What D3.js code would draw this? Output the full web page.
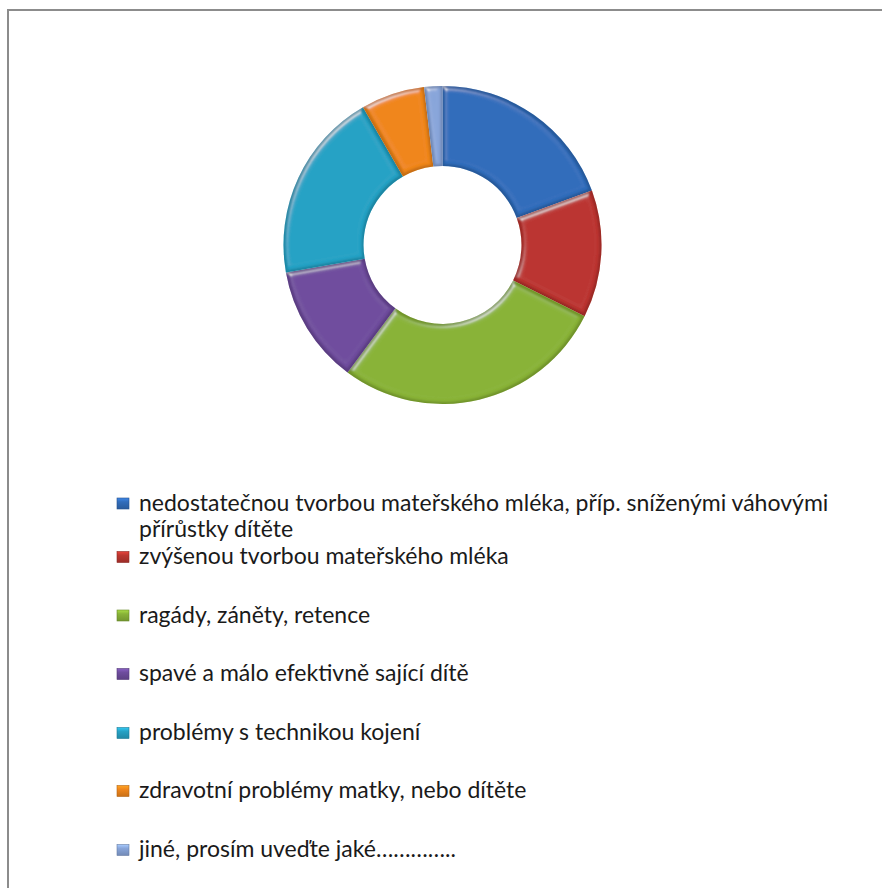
<!DOCTYPE html>
<html>
<head>
<meta charset="utf-8">
<script src="https://cdn.jsdelivr.net/npm/d3@7"></script>
<style>
  html, body { margin: 0; padding: 0; background: #ffffff; }
  svg { display: block; }
</style>
</head>
<body>
<div id="chart"></div>
<script>
// Reasons for breastfeeding problems (response counts)
const categories = [
  "nedostatečnou tvorbou mateřského mléka, příp. sníženými váhovými přírůstky dítěte",
  "zvýšenou tvorbou mateřského mléka",
  "ragády, záněty, retence",
  "spavé a málo efektivně sající dítě",
  "problémy s technikou kojení",
  "zdravotní problémy matky, nebo dítěte",
  "jiné, prosím uveďte jaké………….."
];
const counts = [21, 14, 30, 13, 21, 7, 2];
const legendLines = [
  ["nedostatečnou tvorbou mateřského mléka, příp. sníženými váhovými", "přírůstky dítěte"],
  ["zvýšenou tvorbou mateřského mléka"],
  ["ragády, záněty, retence"],
  ["spavé a málo efektivně sající dítě"],
  ["problémy s technikou kojení"],
  ["zdravotní problémy matky, nebo dítěte"],
  ["jiné, prosím uveďte jaké………….."]
];
const colors = ["#326dbb", "#bb3630", "#89b338", "#6f4d9e", "#27a2c5", "#f0861c", "#88a5da"];

const W = 882, H = 888;
const svg = d3.select("#chart").append("svg").attr("width", W).attr("height", H);

// chart area frame (right/bottom edges fall outside the page)
svg.append("path")
  .attr("d", `M8,${H + 5} L8,10 L${W + 5},10`)
  .attr("fill", "none").attr("stroke", "#8c8c8c").attr("stroke-width", 2);

const defs = svg.append("defs");

// soft bevel: darkened rim plus a light highlight confined to the rim
const f = defs.append("filter").attr("id", "bevel")
  .attr("x", "-10%").attr("y", "-10%").attr("width", "120%").attr("height", "120%");
f.append("feGaussianBlur").attr("in", "SourceAlpha").attr("stdDeviation", 2.5).attr("result", "blur");
const spec = f.append("feSpecularLighting").attr("in", "blur").attr("surfaceScale", 3)
  .attr("specularConstant", 0.6).attr("specularExponent", 25)
  .attr("lighting-color", "#ffffff").attr("result", "spec");
spec.append("feDistantLight").attr("azimuth", 235).attr("elevation", 35);
// wide rim mask
f.append("feMorphology").attr("in", "SourceAlpha").attr("operator", "erode").attr("radius", 5).attr("result", "erW");
f.append("feGaussianBlur").attr("in", "erW").attr("stdDeviation", 2).attr("result", "erWb");
f.append("feComposite").attr("in", "SourceAlpha").attr("in2", "erWb").attr("operator", "arithmetic")
  .attr("k2", 1).attr("k3", -1).attr("result", "rimW");
f.append("feComposite").attr("in", "spec").attr("in2", "rimW").attr("operator", "in").attr("result", "specIn");
// narrow dark rim
f.append("feMorphology").attr("in", "SourceAlpha").attr("operator", "erode").attr("radius", 1.5).attr("result", "er");
f.append("feGaussianBlur").attr("in", "er").attr("stdDeviation", 1.2).attr("result", "erb");
f.append("feComposite").attr("in", "SourceAlpha").attr("in2", "erb").attr("operator", "arithmetic")
  .attr("k2", 1).attr("k3", -1).attr("result", "edge");
f.append("feFlood").attr("flood-color", "#000000").attr("flood-opacity", 0.35).attr("result", "dark");
f.append("feComposite").attr("in", "dark").attr("in2", "edge").attr("operator", "in").attr("result", "darkEdge");
const m = f.append("feMerge");
m.append("feMergeNode").attr("in", "SourceGraphic");
m.append("feMergeNode").attr("in", "specIn");
m.append("feMergeNode").attr("in", "darkEdge");

// legend key gradient: lighter top edge, darker body
colors.forEach((c, i) => {
  const lgd = defs.append("linearGradient").attr("id", "key" + i)
    .attr("x1", 0).attr("y1", 0).attr("x2", 0).attr("y2", 1);
  lgd.append("stop").attr("offset", "0%").attr("stop-color", d3.color(c).brighter(0.6));
  lgd.append("stop").attr("offset", "35%").attr("stop-color", c);
  lgd.append("stop").attr("offset", "100%").attr("stop-color", d3.color(c).darker(0.5));
});

// donut
const cx = 442.5, cy = 245, rOuter = 159, rInner = 79;
const pie = d3.pie().sort(null).value(d => d)(counts);
const arc = d3.arc().innerRadius(rInner).outerRadius(rOuter);
const g = svg.append("g").attr("transform", `translate(${cx},${cy})`);
g.selectAll("path.slice").data(pie).join("path")
  .attr("class", "slice")
  .attr("d", arc)
  .attr("fill", (d, i) => colors[i])
  .attr("filter", "url(#bevel)");

// legend
const legendX = 117, textX = 139;
const baselines = [[510.5, 537], [564], [622.5], [681], [740], [798], [857]];
const lg = svg.append("g").attr("font-family", "Lato, 'Open Sans', sans-serif")
  .attr("font-size", 23).attr("fill", "#1a1a1a");
legendLines.forEach((lines, i) => {
  const b0 = baselines[i][0];
  lg.append("rect")
    .attr("x", legendX).attr("y", b0 - 12.5).attr("width", 12).attr("height", 11)
    .attr("fill", `url(#key${i})`)
    .attr("stroke", d3.color(colors[i]).darker(0.8)).attr("stroke-width", 0.6);
  lines.forEach((t, j) => {
    lg.append("text").attr("x", textX).attr("y", baselines[i][j]).text(t);
  });
});
</script>
</body>
</html>
